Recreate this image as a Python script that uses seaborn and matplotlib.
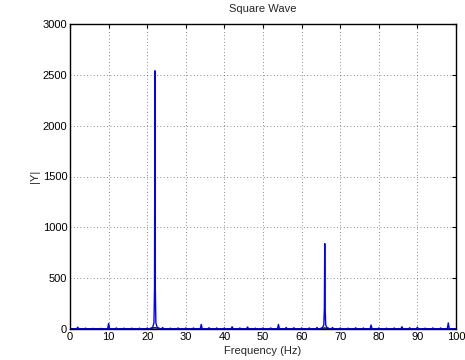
import numpy as np
import pandas as pd
import matplotlib
matplotlib.use("Agg")
import matplotlib.pyplot as plt
import seaborn as sns

# Small harmonic peaks (Hz, |Y|)
peak_hz = [2, 4, 6, 8, 10, 12, 14, 16, 18, 20, 24, 26, 28, 30, 32, 34, 36, 38, 40,
           42, 44, 46, 48, 50, 52, 54, 56, 58, 60, 62, 64, 68, 70, 72, 74, 76, 78,
           80, 82, 84, 86, 88, 90, 92, 94, 96, 98]
peak_mag = [18, 8, 6, 6, 55, 10, 8, 8, 8, 10, 15, 8, 10, 10, 10, 45, 12, 10, 10,
            22, 10, 20, 8, 10, 10, 45, 15, 12, 10, 10, 15, 15, 10, 8, 12, 10, 40,
            10, 8, 10, 22, 12, 18, 8, 10, 10, 60]
# Main peaks with their skirts
main1_hz = [20.8, 21.4, 21.75, 21.9, 22.0, 22.1, 22.25, 22.6, 23.2]
main1_mag = [2, 15, 60, 400, 2540, 400, 60, 15, 2]
main2_hz = [64.8, 65.4, 65.75, 65.9, 66.0, 66.1, 66.25, 66.6, 67.2]
main2_mag = [2, 12, 40, 200, 840, 200, 40, 12, 2]
# Dark low curve near the base of the main peaks
black_hz = [0, 20.3, 21, 22, 23, 23.7, 64.3, 65, 66, 67, 67.7, 100]
black_mag = [0, 0, 8, 12, 8, 0, 0, 6, 10, 6, 0, 0]
baseline = 2

fs, ms = [0.0], [baseline]
for f, m in zip(peak_hz, peak_mag):
    fs += [f - 0.25, f, f + 0.25]
    ms += [baseline, m, baseline]
fs += main1_hz + main2_hz + [100.0]
ms += main1_mag + main2_mag + [baseline]
order = np.argsort(fs, kind="stable")
df = pd.DataFrame({"Frequency": np.array(fs)[order], "Y": np.array(ms)[order]})
dfb = pd.DataFrame({"Frequency": black_hz, "Y": black_mag})

sns.set_style("white")
plt.rcParams["font.family"] = ["Liberation Sans", "DejaVu Sans"]

fig = plt.figure(figsize=(4.65, 3.6), dpi=100)
ax = fig.add_axes([70/465, 1 - 329/360, 386/465, 305/360])

sns.lineplot(data=dfb, x="Frequency", y="Y", ax=ax, color="black", lw=1.0,
             estimator=None, sort=False)
sns.lineplot(data=df, x="Frequency", y="Y", ax=ax, color="#0000ff", lw=1.0,
             estimator=None, sort=False)

ax.set_xlim(0, 100)
ax.set_ylim(0, 3000)
ax.set_xticks(np.arange(0, 101, 10))
ax.set_yticks(np.arange(0, 3001, 500))
ax.grid(True, linestyle=(0, (1, 3)), color="black", lw=0.6, alpha=0.6)
ax.tick_params(direction="in", length=3, labelsize=8, width=0.8, top=True, right=True,
               pad=2, colors="black")
for s in ax.spines.values():
    s.set_color("black")
    s.set_linewidth(1.0)
    s.set_visible(True)
ax.set_title("Square Wave", fontsize=8, pad=9)
ax.set_xlabel("Frequency (Hz)", fontsize=8, labelpad=3)
ax.set_ylabel("|Y|", fontsize=8, labelpad=2)

fig.savefig("out.png", dpi=100)
